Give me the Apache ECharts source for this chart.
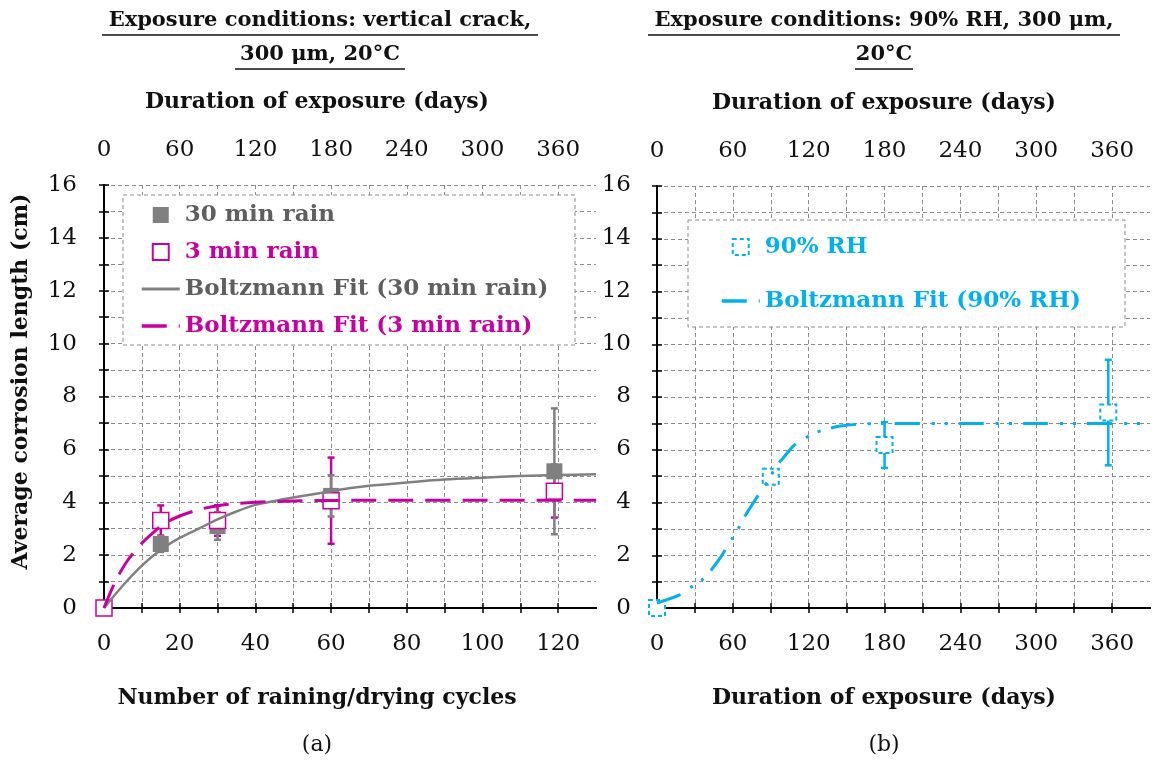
<!DOCTYPE html>
<html>
<head>
<meta charset="utf-8">
<script src="https://cdn.jsdelivr.net/npm/echarts@6/dist/echarts.min.js"></script>
<style>
html,body{margin:0;padding:0;background:#fff;}
#chart{width:1154px;height:762px;}
</style>
</head>
<body>
<div id="chart"></div>
<script>
// (a) vertical crack - points (cycles, cm) and error
var cycles30 = [0, 15, 30, 60, 119];
var len30 = [0, 2.42, 3.1, 4.24, 5.17];
var err30 = [0, 0.3, 0.52, 0.78, 2.38];
var cycles3 = [0, 15, 30, 60, 119];
var len3 = [0, 3.31, 3.31, 4.06, 4.42];
var err3 = [0, 0.57, 0.58, 1.63, 1.0];
// fit curves
var fit30X = [0, 5, 10, 15, 20, 25, 30, 35, 40, 45, 50, 60, 70, 80, 90, 100, 110, 120, 130];
var fit30Y = [0, 0.85, 1.6, 2.2, 2.65, 3.0, 3.35, 3.65, 3.9, 4.05, 4.18, 4.42, 4.62, 4.75, 4.86, 4.93, 4.99, 5.03, 5.06];
var fit3X = [0, 3, 6, 10, 13, 16, 20, 25, 30, 35, 40, 50, 60, 130];
var fit3Y = [0, 1.0, 1.75, 2.45, 2.85, 3.2, 3.48, 3.72, 3.87, 3.95, 4.0, 4.05, 4.07, 4.08];
// (b) 90% RH - points (days, cm)
var days90 = [0, 90, 180, 357];
var len90 = [0, 4.98, 6.18, 7.41];
var err90 = [0, 0, 0.87, 2.0];
var fit90X = [0, 18, 26, 35, 42, 50, 59, 64, 68, 78, 90, 93, 100, 108, 115, 124, 134, 145, 160, 180, 390];
var fit90Y = [0.19, 0.5, 0.76, 1.04, 1.39, 1.9, 2.6, 2.98, 3.36, 4.12, 4.98, 5.3, 5.7, 6.15, 6.37, 6.62, 6.78, 6.9, 6.97, 7.0, 7.0];
// ticks
var cycleLabels = [0, 20, 40, 60, 80, 100, 120];
var cycleTicks = [0, 10, 20, 30, 40, 50, 60, 70, 80, 90, 100, 110, 120];
var dayLabels = [0, 60, 120, 180, 240, 300, 360];
var dayTicks = [0, 30, 60, 90, 120, 150, 180, 210, 240, 270, 300, 330, 360];
var yTicks = [0, 1, 2, 3, 4, 5, 6, 7, 8, 9, 10, 11, 12, 13, 14, 15, 16];

var grayC = '#808080', grayT = '#5f5f5f', magC = '#c800a1', blueC = '#00b0f0';
var FONT = 'DejaVu Serif';

function zip(a, b) {
	var r = [];
	for (var i = 0; i < a.length; i++) r.push([a[i], b[i]]);
	return r;
}
function errData(x, y, e) {
	var r = [];
	for (var i = 0; i < x.length; i++) {
		if (e[i] > 0) r.push([x[i], y[i] - e[i], y[i] + e[i]]);
	}
	return r;
}
function renderErr(params, api) {
	var x = api.value(0);
	var p1 = api.coord([x, api.value(2)]);
	var p2 = api.coord([x, api.value(1)]);
	var w = 3.5;
	var st = {stroke: api.visual('color'), lineWidth: 2.5};
	return {
		type: 'group',
		children: [
			{type: 'line', shape: {x1: p1[0], y1: p1[1], x2: p2[0], y2: p2[1]}, style: st},
			{type: 'line', shape: {x1: p1[0] - w, y1: p1[1], x2: p1[0] + w, y2: p1[1]}, style: st},
			{type: 'line', shape: {x1: p2[0] - w, y1: p2[1], x2: p2[0] + w, y2: p2[1]}, style: st}
		]
	};
}

var SQ = 'path://M0,0L10,0L10,10L0,10Z';
var tickLbl = {fontFamily: FONT, fontSize: 23, color: '#111'};
var axLine = {show: true, lineStyle: {color: '#000', width: 2}};
var split = {show: true, lineStyle: {color: '#8c8c8c', width: 1, type: [4, 3]}};

function xAx(grid, pos, max, step, ticks, labels, showSplit, name, namePad) {
	return {
		type: 'value', gridIndex: grid, position: pos, min: 0, max: max, interval: step,
		axisLine: axLine,
		axisTick: {show: true, inside: true, length: 5, customValues: ticks, lineStyle: {color: '#000', width: 1.5}},
		axisLabel: {show: true, customValues: labels, margin: pos == 'top' ? 23 : 25, textStyle: tickLbl},
		splitLine: showSplit ? split : {show: false},
		name: name, nameLocation: 'middle', nameGap: pos == 'top' ? 72 : 79,
		nameTextStyle: {fontFamily: FONT, fontSize: 22, fontWeight: 'bold', color: '#111', padding: namePad}
	};
}
function yAx(grid, pos, showLabel, showSplit, name) {
	return {
		type: 'value', gridIndex: grid, position: pos, min: 0, max: 16, interval: 2,
		axisLine: axLine,
		axisTick: {show: true, inside: true, length: 5, customValues: yTicks, lineStyle: {color: '#000', width: 1.5}},
		axisLabel: {show: showLabel, margin: pos == 'left' ? 27 : 35, align: 'right', fontFamily: FONT, fontSize: 23, color: '#111'},
		splitLine: showSplit ? split : {show: false},
		name: name, nameLocation: 'middle', nameGap: 72,
		nameTextStyle: {fontFamily: FONT, fontSize: 22, fontWeight: 'bold', color: '#111', padding: [0, 0, 0, 30]}
	};
}

var myChart = echarts.init(document.getElementById('chart'));
var option = {
	backgroundColor: '#fff',
	animation: false,
	grid: [
		{left: 104, top: 185, width: 492, height: 423},
		{left: 657, top: 186, width: 493, height: 422}
	],
	xAxis: [
		xAx(0, 'bottom', 130, 20, cycleTicks, cycleLabels, true, 'Number of raining/drying cycles', [0, 66, 0, 0]),
		xAx(0, 'top', 390, 60, dayTicks, dayLabels, false, 'Duration of exposure (days)', [0, 66, 0, 0]),
		xAx(1, 'bottom', 390, 60, dayTicks, dayLabels, true, 'Duration of exposure (days)', [0, 39, 0, 0]),
		xAx(1, 'top', 390, 60, dayTicks, dayLabels, false, 'Duration of exposure (days)', [0, 39, 0, 0])
	],
	yAxis: [
		yAx(0, 'left', true, true, 'Average corrosion length (cm)'),
		yAx(0, 'right', true, false, ''),
		yAx(1, 'left', false, true, ''),
		yAx(1, 'right', false, false, '')
	],
	legend: [
		{
			orient: 'vertical', left: 140, top: 202, padding: 0, itemGap: 11,
			itemWidth: 38, itemHeight: 16,
			textStyle: {fontFamily: FONT, fontSize: 23, fontWeight: 'bold', lineHeight: 26},
			data: [
				{name: '30 min rain', icon: SQ, textStyle: {color: grayT}},
				{name: '3 min rain', icon: SQ, textStyle: {color: magC}},
				{name: 'Boltzmann Fit (30 min rain)', itemStyle: {opacity: 0}, lineStyle: {width: 3}, textStyle: {color: grayT}},
				{name: 'Boltzmann Fit (3 min rain)', itemStyle: {opacity: 0}, lineStyle: {width: 3.5}, textStyle: {color: magC}}
			]
		},
		{
			orient: 'vertical', left: 720, top: 234, padding: 0, itemGap: 28,
			itemWidth: 38, itemHeight: 16,
			textStyle: {fontFamily: FONT, fontSize: 23, fontWeight: 'bold', lineHeight: 26},
			data: [
				{name: '90% RH', icon: SQ, itemStyle: {borderType: [4, 3]}, textStyle: {color: blueC}},
				{name: 'Boltzmann Fit (90% RH)', itemStyle: {opacity: 0}, lineStyle: {width: 3.5}, textStyle: {color: blueC}}
			]
		}
	],
	graphic: [
		{type: 'rect', z: 3, shape: {x: 123, y: 195, width: 452, height: 150}, style: {fill: '#fff', stroke: '#8c8c8c', lineWidth: 1, lineDash: [4, 3]}},
		{type: 'rect', z: 3, shape: {x: 688, y: 220, width: 437, height: 107}, style: {fill: '#fff', stroke: '#8c8c8c', lineWidth: 1, lineDash: [4, 3]}},
		{type: 'text', style: {text: 'Exposure conditions: vertical crack,', x: 320, y: 21, textAlign: 'center', textVerticalAlign: 'middle', font: 'bold 21px "DejaVu Serif"', fill: '#111'}},
		{type: 'text', style: {text: '300 μm, 20°C', x: 320, y: 55, textAlign: 'center', textVerticalAlign: 'middle', font: 'bold 21px "DejaVu Serif"', fill: '#111'}},
		{type: 'text', style: {text: 'Exposure conditions: 90% RH, 300 μm,', x: 884, y: 21, textAlign: 'center', textVerticalAlign: 'middle', font: 'bold 21px "DejaVu Serif"', fill: '#111'}},
		{type: 'text', style: {text: '20°C', x: 884, y: 55, textAlign: 'center', textVerticalAlign: 'middle', font: 'bold 21px "DejaVu Serif"', fill: '#111'}},
		{type: 'line', shape: {x1: 102, y1: 35, x2: 538, y2: 35}, style: {stroke: '#111', lineWidth: 1.5}},
		{type: 'line', shape: {x1: 235, y1: 69, x2: 405, y2: 69}, style: {stroke: '#111', lineWidth: 1.5}},
		{type: 'line', shape: {x1: 648, y1: 35, x2: 1120, y2: 35}, style: {stroke: '#111', lineWidth: 1.5}},
		{type: 'line', shape: {x1: 855, y1: 69, x2: 913, y2: 69}, style: {stroke: '#111', lineWidth: 1.5}},
		{type: 'text', style: {text: '(a)', x: 317, y: 745, textAlign: 'center', textVerticalAlign: 'middle', font: '22px "DejaVu Serif"', fill: '#111'}},
		{type: 'text', style: {text: '(b)', x: 884, y: 745, textAlign: 'center', textVerticalAlign: 'middle', font: '22px "DejaVu Serif"', fill: '#111'}}
	],
	series: [
		{name: 'err3', type: 'custom', xAxisIndex: 0, yAxisIndex: 0, renderItem: renderErr, itemStyle: {color: magC}, encode: {x: 0, y: [1, 2]}, data: errData(cycles3, len3, err3), z: 2},
		{name: 'err30', type: 'custom', xAxisIndex: 0, yAxisIndex: 0, renderItem: renderErr, itemStyle: {color: grayC}, encode: {x: 0, y: [1, 2]}, data: errData(cycles30, len30, err30), z: 2},
		{name: '30 min rain', type: 'scatter', xAxisIndex: 0, yAxisIndex: 0, symbol: 'rect', symbolSize: 16, itemStyle: {color: grayC, opacity: 1}, data: zip(cycles30, len30), z: 3},
		{name: '3 min rain', type: 'scatter', xAxisIndex: 0, yAxisIndex: 0, symbol: 'rect', symbolSize: 16, itemStyle: {color: '#fff', borderColor: magC, borderWidth: 1.5, opacity: 1}, data: zip(cycles3, len3), z: 4},
		{name: 'Boltzmann Fit (30 min rain)', type: 'line', xAxisIndex: 0, yAxisIndex: 0, showSymbol: false, symbol: 'none', smooth: 0.3, lineStyle: {color: grayC, width: 2.5}, itemStyle: {color: grayC}, data: zip(fit30X, fit30Y), z: 5},
		{name: 'Boltzmann Fit (3 min rain)', type: 'line', xAxisIndex: 0, yAxisIndex: 0, showSymbol: false, symbol: 'none', smooth: 0.3, lineStyle: {color: magC, width: 3, type: [25, 12]}, itemStyle: {color: magC}, data: zip(fit3X, fit3Y), z: 5},
		{name: 'err90', type: 'custom', xAxisIndex: 2, yAxisIndex: 2, renderItem: renderErr, itemStyle: {color: blueC}, encode: {x: 0, y: [1, 2]}, data: errData(days90, len90, err90), z: 2},
		{name: '90% RH', type: 'scatter', xAxisIndex: 2, yAxisIndex: 2, symbol: 'rect', symbolSize: 16, itemStyle: {color: '#fff', borderColor: blueC, borderWidth: 2, borderType: [4, 3], opacity: 1}, data: zip(days90, len90), z: 3},
		{name: 'Boltzmann Fit (90% RH)', type: 'line', xAxisIndex: 2, yAxisIndex: 2, showSymbol: false, symbol: 'none', smooth: 0.3, lineStyle: {color: blueC, width: 3, type: [25, 12, 3, 10, 3, 11]}, itemStyle: {color: blueC}, data: zip(fit90X, fit90Y), z: 5}
	]
};
myChart.setOption(option);
</script>
</body>
</html>
